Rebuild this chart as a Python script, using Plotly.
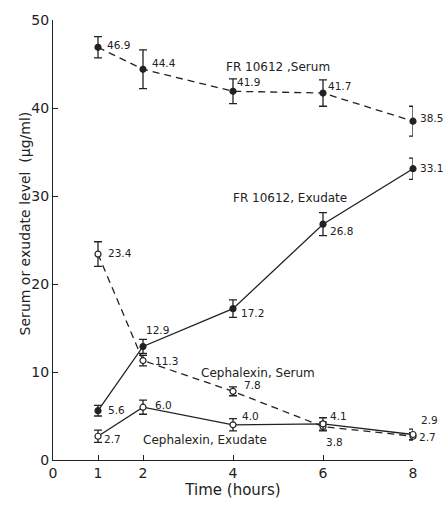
import plotly.graph_objects as go

# Sampling times (hours)
hours = [1, 2, 4, 6, 8]

# Mean levels (ug/ml) and error-bar half widths
fr_serum = [46.9, 44.4, 41.9, 41.7, 38.5]
fr_serum_err = [1.2, 2.2, 1.4, 1.5, 1.7]

fr_exudate = [5.6, 12.9, 17.2, 26.8, 33.1]
fr_exudate_err = [0.6, 0.8, 1.0, 1.3, 1.2]

ceph_serum = [23.4, 11.3, 7.8, 3.8, 2.7]
ceph_serum_err = [1.4, 0.6, 0.5, 0.5, 0.4]

ceph_exudate = [2.7, 6.0, 4.0, 4.1, 2.9]
ceph_exudate_err = [0.7, 0.8, 0.7, 0.7, 0.6]

series_names = ["FR 10612 ,Serum", "FR 10612, Exudate", "Cephalexin, Serum", "Cephalexin, Exudate"]

x_ticks = [0, 1, 2, 4, 6, 8]
y_ticks = [0, 10, 20, 30, 40, 50]

INK = "#222222"
FONT = "DejaVu Sans"

fig = go.Figure()


def add_series(values, errors, dashed, filled):
    fig.add_trace(go.Scatter(
        x=hours, y=values, mode="lines+markers",
        line=dict(color=INK, width=1.3, dash="7px,5px" if dashed else "solid"),
        marker=dict(symbol="circle", size=6,
                    color=INK if filled else "white",
                    line=dict(color=INK, width=1.2)),
        error_y=dict(type="data", array=errors, visible=True,
                     color=INK, thickness=1.3, width=4),
        cliponaxis=False, showlegend=False, hoverinfo="x+y",
    ))


add_series(fr_serum, fr_serum_err, True, True)
add_series(fr_exudate, fr_exudate_err, False, True)
add_series(ceph_serum, ceph_serum_err, True, False)
add_series(ceph_exudate, ceph_exudate_err, False, False)

# value labels: (dx, dy) pixel offsets of each label from its point
label_offsets = [
    (fr_serum, [(7, 2), (7, 6), (2, 9), (3, 7), (5, 3)]),
    (fr_exudate, [(8, 1), (1, 16), (6, -4), (5, -7), (5, 1)]),
    (ceph_serum, [(8, 1), (10, 0), (9, 6), (1, -15), (4, -1)]),
    (ceph_exudate, [(4, -3), (10, 2), (7, 9), (5, 8), (6, 14)]),
]
for values, offs in label_offsets:
    for x, v, (dx, dy) in zip(hours, values, offs):
        fig.add_annotation(x=x, y=v, xref="x", yref="y", text=f"{v:.1f}",
                           showarrow=False, xanchor="left", yanchor="middle",
                           xshift=dx, yshift=dy,
                           font=dict(family=FONT, size=10.5, color=INK))

# series names
name_pos = [(5.0, 44.7), (5.27, 29.8), (4.56, 9.9), (3.38, 2.3)]
for name, (nx, ny) in zip(series_names, name_pos):
    fig.add_annotation(x=nx, y=ny, xref="x", yref="y", text=name,
                       showarrow=False, xanchor="center", yanchor="middle",
                       font=dict(family=FONT, size=12, color=INK))

# y-axis title, placed to the left of the axis line
fig.add_annotation(x=(15 - 53) / 360, y=(467 - 225) / 450, xref="x domain", yref="y domain",
                   text="Serum or exudate level  (\u03bcg/ml)",
                   showarrow=False, textangle=-90, font=dict(family=FONT, size=14, color=INK))

fig.update_layout(
    width=445, height=507,
    margin=dict(l=53, r=32, t=17, b=40),
    paper_bgcolor="white", plot_bgcolor="white",
    font=dict(family=FONT, color=INK),
    xaxis=dict(range=[0, 8], tickvals=x_ticks, ticktext=[str(t) for t in x_ticks],
               showgrid=False, zeroline=False, showline=True, linecolor=INK, linewidth=1.3,
               ticks="inside", ticklen=5, tickcolor=INK, tickwidth=1.2,
               tickfont=dict(family=FONT, size=14, color=INK),
               title=dict(text="Time (hours)", font=dict(family=FONT, size=15, color=INK), standoff=4)),
    yaxis=dict(range=[0, 50], tickvals=y_ticks,
               showgrid=False, zeroline=False, showline=True, linecolor=INK, linewidth=1.3,
               ticks="inside", ticklen=5, tickcolor=INK, tickwidth=1.2,
               tickfont=dict(family=FONT, size=14, color=INK)),
)

fig.write_html("out.html")
